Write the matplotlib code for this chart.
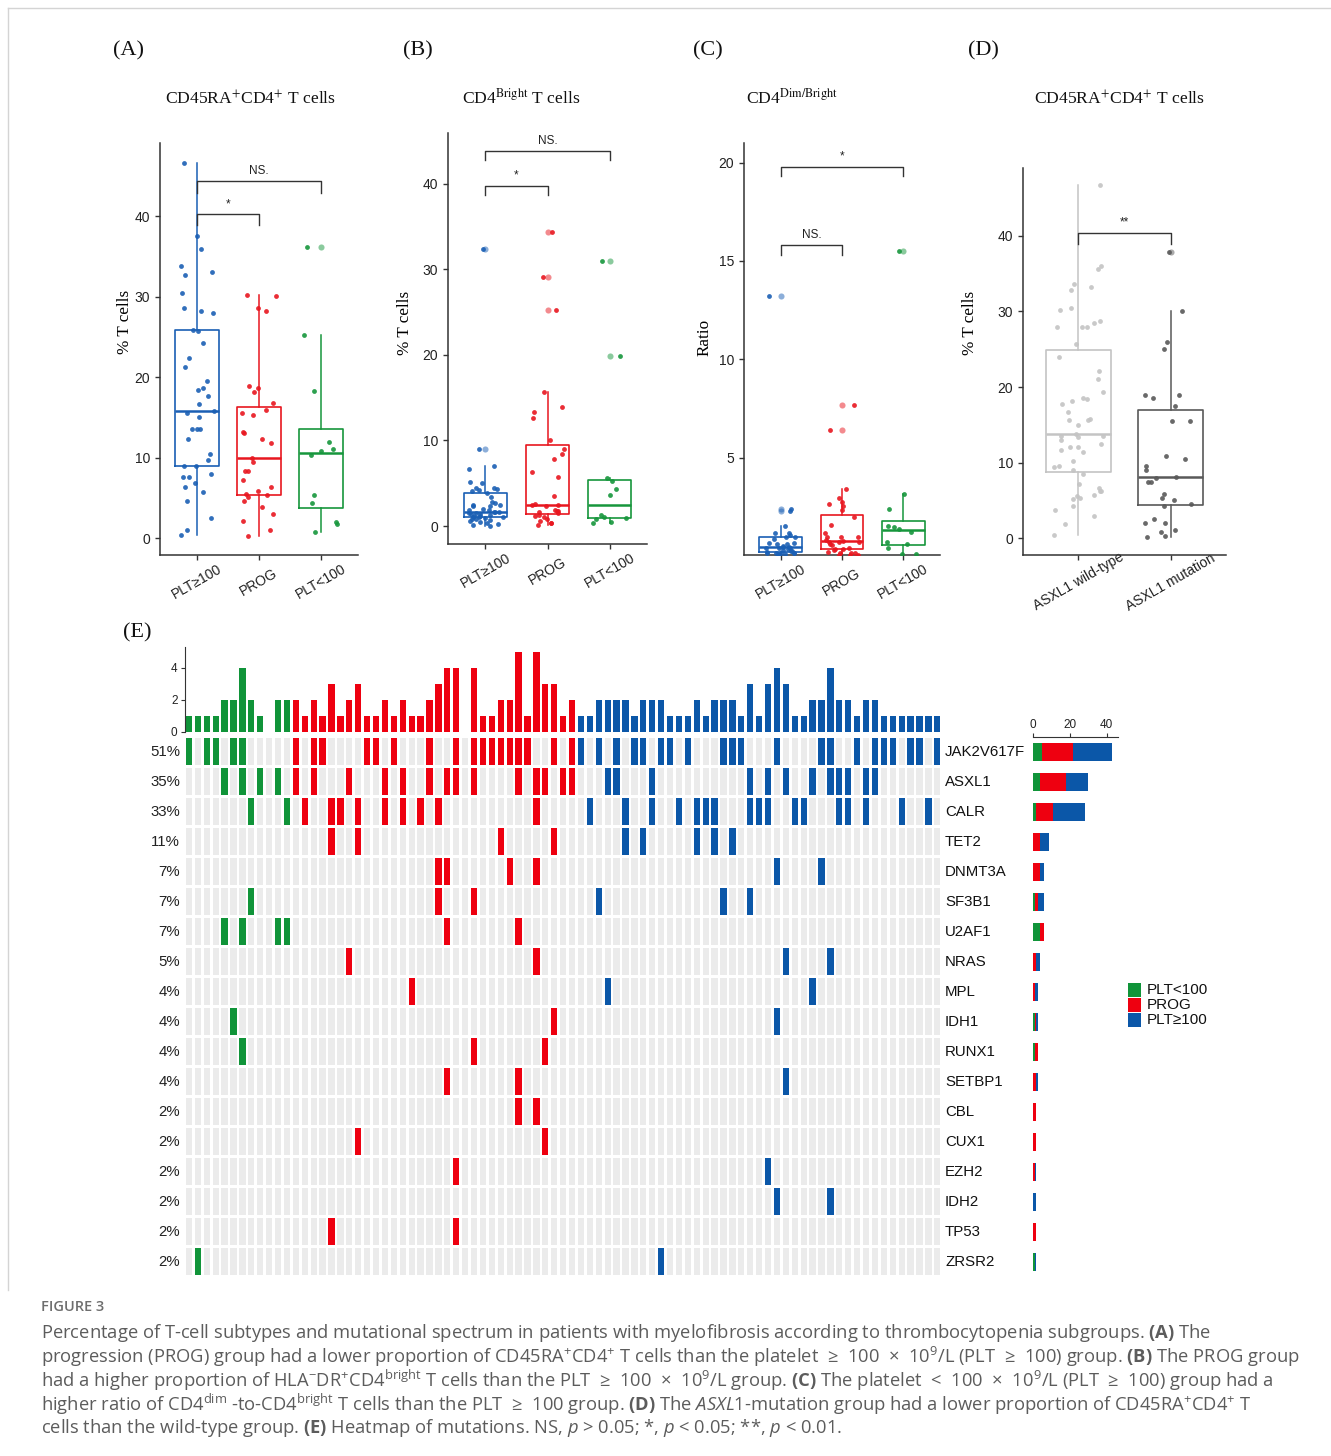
import numpy as np
import matplotlib.pyplot as plt
from matplotlib.patches import Rectangle
from matplotlib.lines import Line2D

# ---- data: panels A-D ----
grp_labels = ['PLT≥100', 'PROG', 'PLT<100']
grp_colors = ['#1a5fb4', '#e8161f', '#16963c']

a_hi = [46.6, 37.6, 35.9, 33.8, 32.7, 33.1, 30.5, 28.6, 28.0, 28.2, 25.9, 25.7, 24.2, 22.4,
        21.3, 19.5, 18.6, 18.4, 17.7, 16.7, 15.8, 15.5, 15.0, 13.6, 13.5, 13.6, 12.3, 9.7,
        10.4, 8.9, 8.9, 7.6, 7.6, 8.0, 6.8, 6.3, 5.7, 4.6, 2.5, 1.0, 0.4]
a_prog = [18.9, 18.2, 18.6, 16.8, 15.9, 15.3, 15.5, 30.2, 30.1, 28.6, 28.2, 13.0, 13.2, 11.8,
          12.3, 9.9, 9.5, 8.4, 8.4, 7.2, 6.3, 5.8, 5.5, 5.3, 5.1, 4.6, 3.9, 3.0, 2.1, 1.0, 0.3]
a_lo = [36.2, 25.2, 18.3, 11.9, 10.8, 11.1, 10.3, 5.3, 4.4, 1.7, 2.0, 0.7]

b_hi = [32.4, 9.0, 7.0, 6.7, 5.1, 5.0, 4.4, 4.3, 4.4, 3.9, 3.4, 2.8, 2.7, 2.4, 2.3, 2.3, 2.4,
        2.0, 1.6, 1.6, 1.6, 1.5, 1.4, 1.2, 1.0, 1.0, 0.8, 0.5, 0.6, 0.2, 0.05, 0.1, 0.9, 1.4,
        1.9, 1.5, 1.9, 0.8, 0.3, 0.7, 1.1, 1.3, 1.2, 4.1, 4.2]
b_prog = [15.7, 13.9, 13.3, 12.6, 10.0, 9.0, 8.4, 7.8, 6.3, 5.7, 3.5, 2.6, 2.3, 2.4, 2.5, 1.9,
          1.75, 1.75, 1.3, 1.5, 1.6, 1.2, 1.0, 0.8, 0.6, 0.4, 0.3, 0.1, 34.3, 29.1, 25.2]
b_lo = [31.0, 19.9, 5.6, 5.3, 4.3, 3.6, 1.25, 0.9, 0.85, 1.1, 0.5, 0.3]

c_hi = [13.2, 2.4, 2.3, 1.53, 0.98, 1.07, 0.85, 0.95, 1.19, 1.15, 0.61, 0.68, 0.64, 0.59,
        0.48, 0.51, 0.39, 0.41, 0.44, 0.41, 0.31, 0.27, 0.34, 0.25, 0.17, 0.17, 0.20, 0.14,
        0.14, 0.14, 0.08, 0.07, 0.08]
c_prog = [7.7, 6.4, 3.4, 2.95, 2.55, 2.75, 2.65, 2.33, 2.0, 1.56, 1.15, 0.95, 0.95, 0.95,
          0.81, 0.73, 0.76, 0.71, 0.73, 0.56, 0.39, 0.34, 0.34, 0.31, 0.17, 0.17, 0.17, 0.07,
          0.07, 0.05, 0.2, 0.6]
c_lo = [15.5, 3.16, 2.4, 1.55, 1.45, 1.36, 1.24, 0.61, 0.73, 0.39, 0.08, 0.08]

d_labels = ['ASXL1 wild-type', 'ASXL1 mutation']
d_colors = ['#c4c4c4', '#595959']
d_wt = [46.7, 32.8, 35.6, 36.0, 33.6, 33.2, 30.4, 30.2, 28.0, 27.95, 27.95, 28.5, 28.7, 25.7,
        24.0, 22.1, 21.0, 19.3, 18.5, 18.4, 18.2, 17.8, 16.7, 15.8, 15.7, 15.6, 15.0, 13.8,
        13.5, 13.5, 13.4, 13.0, 12.5, 12.1, 12.1, 11.7, 11.4, 10.2, 9.6, 9.4, 9.0, 8.5, 7.2,
        6.6, 6.3, 6.3, 5.7, 5.6, 5.3, 5.2, 4.3, 3.8, 3.0, 1.9, 0.5]
d_mut = [37.8, 30.0, 26.0, 25.0, 18.9, 18.5, 18.9, 17.5, 15.5, 15.5, 10.9, 10.5, 9.5, 9.0,
         8.1, 8.0, 7.5, 7.5, 5.8, 5.3, 5.1, 4.5, 4.3, 2.5, 1.1, 2.0, 2.0, 0.9, 0.36, 0.2]

# ---- data: panel E (mutated patient columns, 1-based) ----
n_per_group = {'PLT<100': 12, 'PROG': 32, 'PLT≥100': 41}
genes = ['JAK2V617F', 'ASXL1', 'CALR', 'TET2', 'DNMT3A', 'SF3B1', 'U2AF1', 'NRAS', 'MPL',
         'IDH1', 'RUNX1', 'SETBP1', 'CBL', 'CUX1', 'EZH2', 'IDH2', 'TP53', 'ZRSR2']
mutated = [
    [1, 3, 4, 6, 7, 13, 15, 16, 21, 22, 24, 28, 31, 33, 34, 35, 36, 37, 38, 39, 42, 44, 45, 47,
     49, 51, 52, 54, 55, 57, 61, 62, 63, 67, 72, 73, 76, 78, 79, 80, 82, 83, 85],
    [5, 7, 9, 11, 13, 15, 19, 23, 25, 28, 30, 31, 33, 38, 40, 41, 43, 44, 48, 49, 53, 64, 66,
     68, 71, 73, 74, 75, 77, 78],
    [8, 12, 14, 17, 18, 20, 23, 25, 27, 29, 40, 46, 50, 53, 56, 58, 59, 60, 64, 65, 66, 69, 70,
     74, 75, 77, 81, 84],
    [17, 20, 36, 42, 50, 52, 58, 60, 62],
    [29, 30, 37, 40, 67, 72],
    [8, 29, 33, 47, 61, 64],
    [5, 7, 11, 12, 30, 38],
    [19, 40, 68, 73],
    [26, 48, 71],
    [6, 42, 67],
    [7, 33, 41],
    [30, 38, 68],
    [38, 40],
    [20, 41],
    [31, 66],
    [67, 73],
    [17, 31],
    [2, 54],
]
e_colors = {'PLT<100': '#109439', 'PROG': '#ee0010', 'PLT≥100': '#0b57a8'}

W, H = 1331, 1456
plt.rcParams['font.family'] = ['Liberation Sans', 'DejaVu Sans']
plt.rcParams['mathtext.fontset'] = 'custom'
plt.rcParams['mathtext.rm'] = 'Open Sans'
plt.rcParams['mathtext.it'] = 'Open Sans:italic'
plt.rcParams['mathtext.bf'] = 'Open Sans:bold'

fig = plt.figure(figsize=(W / 100, H / 100), dpi=100)


def add_ax(l, t, r, b):
    return fig.add_axes([l / W, 1 - b / H, (r - l) / W, (b - t) / H])


def ftext(x, y, s, **kw):
    fig.text(x / W, 1 - y / H, s, **kw)


serif = ['Liberation Serif', 'DejaVu Serif']
ink = '#333333'
rng = np.random.default_rng(11)


def box_panel(ax, data, cols, labels, ylim, yticks, label_pad):
    for i, (vals, c) in enumerate(zip(data, cols), start=1):
        ax.boxplot(vals, positions=[i], widths=0.7, showcaps=False, manage_ticks=False,
                   boxprops=dict(color=c, lw=1.2), medianprops=dict(color=c, lw=1.8),
                   whiskerprops=dict(color=c, lw=1.1),
                   flierprops=dict(marker='o', markerfacecolor=c, markeredgecolor='none',
                                   markersize=4.4, alpha=0.5))
        x = i + rng.uniform(-0.28, 0.28, len(vals))
        ax.scatter(x, vals, s=12, color=c, alpha=0.9, lw=0, zorder=3)
    ax.set_xlim(0.4, len(data) + 0.6)
    ax.set_ylim(*ylim)
    ax.set_yticks(yticks)
    ax.set_xticks(range(1, len(data) + 1))
    ax.set_xticklabels(labels, rotation=30, ha='center', va='center')
    for s in ['top', 'right']:
        ax.spines[s].set_visible(False)
    for s in ['left', 'bottom']:
        ax.spines[s].set_color(ink)
        ax.spines[s].set_linewidth(1.1)
    ax.tick_params(length=3.6, width=1, color=ink, labelcolor='#222222', labelsize=10)
    ax.tick_params(axis='x', pad=label_pad)


def bracket(ax, x1, x2, y, drop, label, ty):
    ax.plot([x1, x1, x2, x2], [y - drop, y, y, y - drop], color=ink, lw=1.0)
    ax.text((x1 + x2) / 2, ty, label, ha='center', va='center', fontsize=8.5, color='#222222')


ylab_kw = dict(family=serif, fontsize=12.3)

# ---- panel A ----
axA = add_ax(160, 143, 358, 555)
box_panel(axA, [a_hi, a_prog, a_lo], grp_colors, grp_labels, (-2.1, 49.1), [0, 10, 20, 30, 40], 15.8)
bracket(axA, 1, 2, 40.3, 1.4, '*', 41.5)
bracket(axA, 1, 3, 44.4, 1.5, 'NS.', 45.6)
axA.set_ylabel('% T cells', **ylab_kw)
axA.yaxis.set_label_coords(-0.136, 0.566)

# ---- panel B ----
axB = add_ax(448, 133, 647, 544)
box_panel(axB, [b_hi, b_prog, b_lo], grp_colors, grp_labels, (-2.1, 45.9), [0, 10, 20, 30, 40], 15.8)
bracket(axB, 1, 2, 39.7, 1.0, '*', 40.9)
bracket(axB, 1, 3, 43.8, 1.1, 'NS.', 45.0)
axB.set_ylabel('% T cells', **ylab_kw)
axB.yaxis.set_label_coords(-0.176, 0.538)

# ---- panel C ----
axC = add_ax(744, 143, 940, 555)
box_panel(axC, [c_hi, c_prog, c_lo], grp_colors, grp_labels, (0.05, 21.0), [5, 10, 15, 20], 15.8)
bracket(axC, 1, 2, 15.8, 0.5, 'NS.', 16.3)
bracket(axC, 1, 3, 19.8, 0.5, '*', 20.3)
axC.set_ylabel('Ratio', **ylab_kw)
axC.yaxis.set_label_coords(-0.158, 0.527)

# ---- panel D ----
axD = add_ax(1023, 168, 1226, 555)
box_panel(axD, [d_wt, d_mut], d_colors, d_labels, (-2.2, 48.95), [0, 10, 20, 30, 40], 15.8)
bracket(axD, 1, 2, 40.3, 1.4, '**', 41.7)
axD.set_ylabel('% T cells', **ylab_kw)
axD.yaxis.set_label_coords(-0.22, 0.6)

# titles and panel letters
for x, s in [(251, 'CD45RA$^{+}$CD4$^{+}$ T cells'), (521, 'CD4$^{\\mathrm{Bright}}$ T cells'),
             (792, 'CD4$^{\\mathrm{Dim/Bright}}$'), (1120, 'CD45RA$^{+}$CD4$^{+}$ T cells')]:
    ftext(x, 104, s, ha='center', va='baseline', family=serif, fontsize=12.6,
          math_fontfamily='stix', color='#111111')
for x, y, s in [(128.5, 51, '(A)'), (418, 51, '(B)'), (708, 51, '(C)'), (983, 51, '(D)'),
                (137, 633, '(E)')]:
    ftext(x, y, s, ha='center', va='center', family=serif, fontsize=16, color='#111111')

# ---- panel E: oncoprint ----
patient_group = []
for g, n in n_per_group.items():
    patient_group += [g] * n
n_pat = len(patient_group)
cols = np.arange(1, n_pat + 1)
matrix = np.zeros((len(genes), n_pat), dtype=int)
for r, m in enumerate(mutated):
    matrix[r, np.array(m) - 1] = 1
pat_colors = [e_colors[g] for g in patient_group]

axH = add_ax(184.5, 736.5, 941.8, 1276.5)
for r in range(len(genes)):
    axH.bar(cols, 0.9, bottom=r - 0.45, width=0.7, color='#ebebeb', lw=0)
    hit = matrix[r] == 1
    axH.bar(cols[hit], 0.9, bottom=r - 0.45, width=0.7,
            color=[c for c, h in zip(pat_colors, hit) if h], lw=0)
    pct = round(100 * matrix[r].sum() / n_pat)
    axH.text(0.0, r, f'{pct}%', ha='right', va='center', fontsize=10.8, color='#222222')
    axH.text(85.86, r, genes[r], ha='left', va='center', fontsize=10.8, color='#111111')
axH.set_xlim(0.5, n_pat + 0.5)
axH.set_ylim(len(genes) - 0.5, -0.5)
axH.axis('off')

axT = add_ax(184.5, 647, 941.8, 732)
axT.bar(cols, matrix.sum(axis=0), width=0.7, color=pat_colors, lw=0)
axT.set_xlim(0.5, n_pat + 0.5)
axT.set_ylim(0, 5.3)
axT.set_yticks([0, 2, 4])
axT.set_xticks([])
for s in ['top', 'right', 'bottom']:
    axT.spines[s].set_visible(False)
axT.spines['left'].set_color(ink)
axT.tick_params(axis='y', length=3, width=0.8, color=ink, labelsize=8.5, labelcolor='#222222', pad=2)

axR = add_ax(1032.7, 736.5, 1117.8, 1276.5)
left = np.zeros(len(genes))
for g in ['PLT<100', 'PROG', 'PLT≥100']:
    in_g = np.array([pg == g for pg in patient_group])
    cnt = matrix[:, in_g].sum(axis=1)
    axR.barh(np.arange(len(genes)), cnt, left=left, height=0.6, color=e_colors[g], lw=0)
    left += cnt
axR.set_xlim(0, 46)
axR.set_ylim(len(genes) - 0.5, -0.5)
axR.set_xticks([0, 20, 40])
axR.set_yticks([])
axR.xaxis.tick_top()
for s in ['bottom', 'right', 'left']:
    axR.spines[s].set_visible(False)
axR.spines['top'].set_color(ink)
axR.tick_params(axis='x', length=3, width=0.8, color=ink, labelsize=8.5, labelcolor='#222222', pad=1)

# legend
for k, g in enumerate(['PLT<100', 'PROG', 'PLT≥100']):
    y0 = 983 + k * 15
    fig.patches.append(Rectangle((1127.7 / W, 1 - (y0 + 14) / H), 13.3 / W, 14 / H,
                                 transform=fig.transFigure, color=e_colors[g], lw=0))
    ftext(1147, y0 + 7, g, ha='left', va='center', fontsize=11, color='#111111')

# border of the figure image
fig.lines.append(Line2D([8 / W, 1], [1 - 8 / H, 1 - 8 / H], transform=fig.transFigure,
                        color='#d4d4d4', lw=1))
fig.lines.append(Line2D([8 / W, 8 / W], [1 - 8 / H, 1 - 1290 / H], transform=fig.transFigure,
                        color='#d4d4d4', lw=1))

# caption
cap = ['Open Sans', 'DejaVu Sans']
ftext(41, 1307, 'FIGURE 3', ha='left', va='center', fontsize=10.5, family=cap,
      color='#6e6e6e', weight='semibold')
lines = [
    'Percentage of T-cell subtypes and mutational spectrum in patients with myelofibrosis '
    'according to thrombocytopenia subgroups. $\\mathbf{(A)}$ The',
    'progression (PROG) group had a lower proportion of CD45RA$^{+}$CD4$^{+}$ T cells than the '
    'platelet  ≥  100  ×  10$^{9}$/L (PLT  ≥  100) group. $\\mathbf{(B)}$ The PROG group',
    'had a higher proportion of HLA$^{-}$DR$^{+}$CD4$^{\\mathrm{bright}}$ T cells than the PLT  ≥  100 '
    ' ×  10$^{9}$/L group. $\\mathbf{(C)}$ The platelet  <  100  ×  10$^{9}$/L (PLT  ≥  100) group had a',
    'higher ratio of CD4$^{\\mathrm{dim}}$ -to-CD4$^{\\mathrm{bright}}$ T cells than the PLT  ≥  100 '
    'group. $\\mathbf{(D)}$ The $\\mathit{ASXL1}$-mutation group had a lower proportion of '
    'CD45RA$^{+}$CD4$^{+}$ T',
    'cells than the wild-type group. $\\mathbf{(E)}$ Heatmap of mutations. NS, $\\mathit{p}$ > 0.05; '
    '*, $\\mathit{p}$ < 0.05; **, $\\mathit{p}$ < 0.01.',
]
for k, s in enumerate(lines):
    ftext(41, 1333 + k * 23.75, s, ha='left', va='center', fontsize=13.2, family=cap,
          color='#5c5c5c')

fig.savefig('out.png', dpi=100)
